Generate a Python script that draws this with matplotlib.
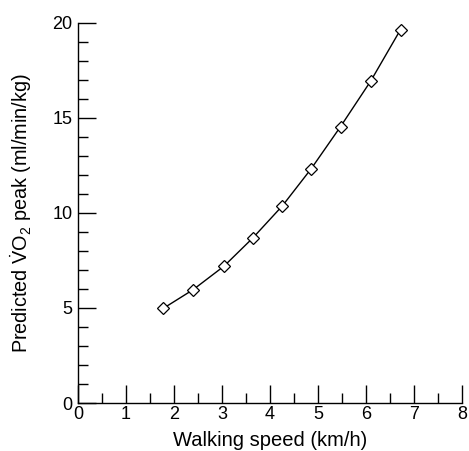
import matplotlib
matplotlib.use('Agg')
import matplotlib.pyplot as plt
from matplotlib.ticker import MultipleLocator

# walking speed (km/h) vs predicted VO2 peak (ml/min/kg)
speed = [1.78, 2.40, 3.04, 3.64, 4.26, 4.86, 5.47, 6.10, 6.72]
vo2_peak = [4.98, 5.96, 7.19, 8.67, 10.37, 12.32, 14.53, 16.93, 19.63]

plt.rcParams['font.family'] = ['Liberation Sans', 'DejaVu Sans']
plt.rcParams['mathtext.fontset'] = 'custom'
plt.rcParams['mathtext.rm'] = 'Liberation Sans'
plt.rcParams['mathtext.it'] = 'Liberation Sans:italic'

fig = plt.figure(figsize=(4.69, 4.51), dpi=100)
ax = fig.add_axes([0.1663, 0.1064, 0.8187, 0.8436])

ax.plot(speed, vo2_peak, color='black', lw=1, marker='D', ms=6,
        mfc='white', mec='black', mew=0.9, clip_on=False)

ax.set_xlim(0, 8)
ax.set_ylim(0, 20)
ax.xaxis.set_major_locator(MultipleLocator(1))
ax.xaxis.set_minor_locator(MultipleLocator(0.5))
ax.yaxis.set_major_locator(MultipleLocator(5))
ax.yaxis.set_minor_locator(MultipleLocator(1))

ax.spines['top'].set_visible(False)
ax.spines['right'].set_visible(False)
for s in ['left', 'bottom']:
    ax.spines[s].set_linewidth(1)

ax.tick_params(which='major', direction='in', length=13, width=1, labelsize=13)
ax.tick_params(which='minor', direction='in', length=7, width=1)
ax.tick_params(axis='x', pad=2)
ax.tick_params(axis='y', pad=4)

ax.set_xlabel('Walking speed (km/h)', fontsize=14.5, labelpad=6)
ax.set_ylabel(r'Predicted $\dot{\mathrm{V}}\mathrm{O}_2$ peak (ml/min/kg)', fontsize=14.3, labelpad=13)

fig.savefig('out.png', dpi=100)
